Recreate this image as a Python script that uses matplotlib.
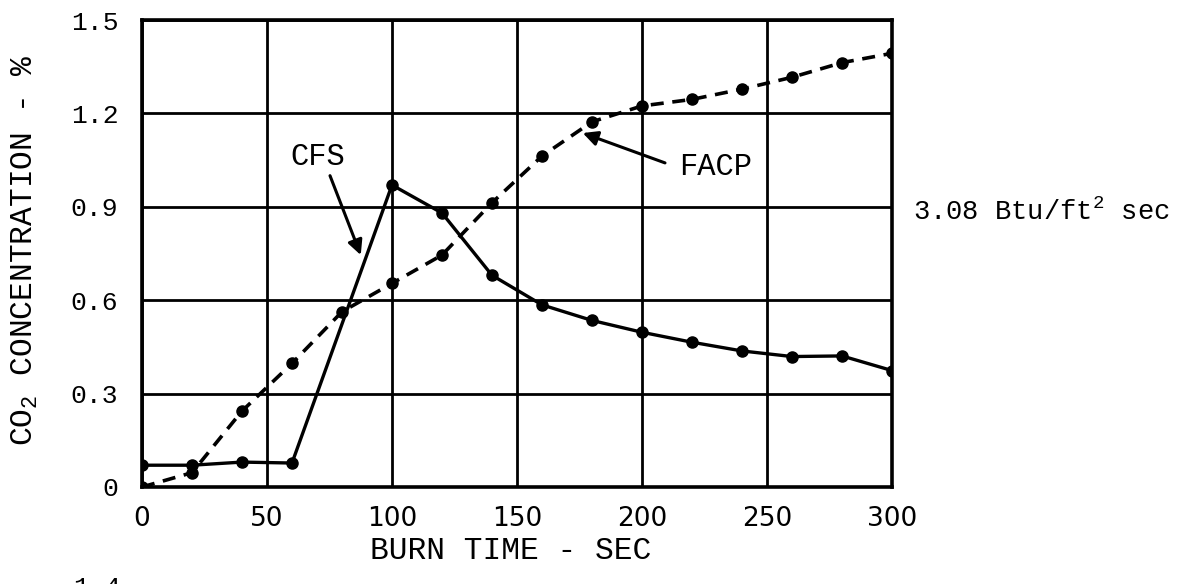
import matplotlib
matplotlib.use("Agg")
import matplotlib.pyplot as plt

# Data
time_s = [0, 20, 40, 60, 80, 100, 120, 140, 160, 180, 200, 220, 240, 260, 280, 300]
cfs_time = [0, 20, 40, 60, 100, 120, 140, 160, 180, 200, 220, 240, 260, 280, 300]
cfs_co2 = [0.07, 0.07, 0.08, 0.077, 0.97, 0.88, 0.68, 0.585, 0.535, 0.497, 0.465, 0.437, 0.419, 0.421, 0.374]
facp_co2 = [0.0, 0.046, 0.244, 0.397, 0.563, 0.654, 0.745, 0.913, 1.063, 1.173, 1.224, 1.245, 1.278, 1.316, 1.363, 1.393]
x_ticks = [0, 50, 100, 150, 200, 250, 300]
y_ticks = [0, 0.3, 0.6, 0.9, 1.2, 1.5]
y_tick_labels = ["0", "0.3", "0.6", "0.9", "1.2", "1.5"]

plt.rcParams['mathtext.fontset'] = 'custom'
plt.rcParams['mathtext.rm'] = 'Liberation Mono'
plt.rcParams['mathtext.it'] = 'Liberation Mono'
plt.rcParams['mathtext.bf'] = 'Liberation Mono'

W, H = 1181, 584
fig = plt.figure(figsize=(W / 100, H / 100), dpi=100)
ax = fig.add_axes([142 / W, 1 - 487 / H, 750 / W, 467 / H])

ax.plot(cfs_time, cfs_co2, color='black', lw=2.4, marker='o', ms=8, zorder=3)
ax.plot(time_s, facp_co2, color='black', lw=2.6, ls=(0, (3.6, 2.4)), marker='o', ms=8, zorder=3)

ax.set_xlim(0, 300)
ax.set_ylim(0, 1.5)
ax.set_xticks(x_ticks)
ax.set_yticks(y_ticks)
ax.set_yticklabels(y_tick_labels, fontfamily='Liberation Mono', fontsize=19)
ax.set_xticklabels([str(v) for v in x_ticks], fontfamily='DejaVu Sans', fontsize=19)
ax.tick_params(axis='both', length=0)
ax.tick_params(axis='y', pad=17)
ax.tick_params(axis='x', pad=14)
ax.grid(True, color='black', lw=2.0)
ax.set_axisbelow(True)
for s in ax.spines.values():
    s.set_linewidth(2.6)

arrow = dict(arrowstyle='-|>', color='black', lw=2.2, mutation_scale=22, shrinkA=0, shrinkB=0)
ax.text(70.5, 1.06, "CFS", ha='center', va='center', fontfamily='Liberation Mono', fontsize=22)
ax.annotate("", xy=(87.5, 0.745), xytext=(75.2, 1.0), arrowprops=arrow)
ax.text(229.6, 1.028, "FACP", ha='center', va='center', fontfamily='Liberation Mono', fontsize=22)
ax.annotate("", xy=(176.3, 1.137), xytext=(209.2, 1.041), arrowprops=arrow)

fig.text(913 / W, 1 - 212 / H, "3.08 Btu/ft$^2$ sec", ha='left', va='center',
         fontfamily='Liberation Mono', fontsize=19.5)
fig.text(25 / W, 1 - 250 / H, "CO$_2$ CONCENTRATION - %", rotation=90, ha='center', va='center',
         fontfamily='Liberation Mono', fontsize=22.5)
fig.text(511 / W, 1 - 551 / H, "BURN TIME - SEC", ha='center', va='center',
         fontfamily='Liberation Mono', fontsize=22.5)
fig.text(97 / W, 1 - 588 / H, "1.4", ha='center', va='center',
         fontfamily='Liberation Mono', fontsize=19)

fig.savefig("out.png", dpi=100)
